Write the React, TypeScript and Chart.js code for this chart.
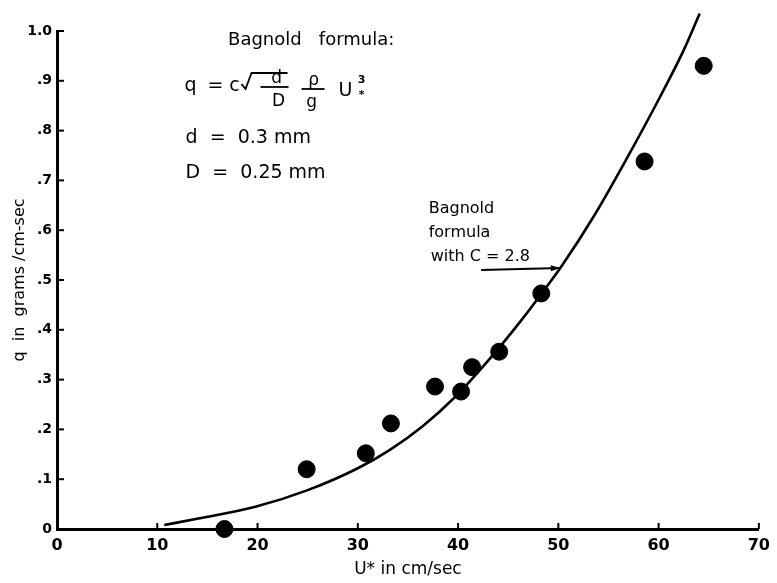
import React, { useEffect, useRef } from 'react';
import { Chart, registerables } from 'chart.js';
Chart.register(...registerables);

// Measured sand flux (dots)
const measuredU = [16.7, 24.9, 30.8, 33.3, 37.7, 40.3, 41.4, 44.1, 48.3, 58.6, 64.5];
const measuredQ = [0.0, 0.12, 0.152, 0.212, 0.286, 0.276, 0.325, 0.356, 0.473, 0.738, 0.93];

// Bagnold formula curve (C = 2.8)
const curveU = [10.7, 14.1, 19.7, 25.0, 30.0, 33.2, 36.5, 39.7, 43.0, 46.3, 48.3, 50.3, 53.6, 56.8, 60.1, 62.4, 64.1];
const curveQ = [0.008, 0.021, 0.044, 0.078, 0.122, 0.159, 0.207, 0.265, 0.338, 0.419, 0.472, 0.527, 0.63, 0.743, 0.866, 0.957, 1.035];

const xTickValues = [0, 10, 20, 30, 40, 50, 60, 70];
const yTickLabels = ['0', '.1', '.2', '.3', '.4', '.5', '.6', '.7', '.8', '.9', '1.0'];

const FONT = '"DejaVu Sans", sans-serif';

// annotation anchors in data units
const titleNote = { x: 17.06, y: 0.982, text: 'Bagnold   formula:' };
const formulaAnchor = { x: 12.72, y: 0.8896 };
const paramNotes = [
  { x: 12.82, y: 0.785, text: 'd  =  0.3 mm' },
  { x: 12.82, y: 0.715, text: 'D  =  0.25 mm' },
];
const curveNoteLines = ['Bagnold', 'formula', 'with C = 2.8'];
const curveNote = { x: 37.07, y: 0.6426, lineStep: 0.0482 };
const arrowFrom = { x: 42.3, y: 0.52 };
const arrowTo = { x: 50.2, y: 0.524 };

const annotPlugin = {
  id: 'annot',
  afterDatasetsDraw(chart: any) {
    const ctx: CanvasRenderingContext2D = chart.ctx;
    const xs = chart.scales.x;
    const ys = chart.scales.y;
    const X = (v: number) => xs.getPixelForValue(v);
    const Y = (v: number) => ys.getPixelForValue(v);
    const area = chart.chartArea;
    const line = (x1: number, y1: number, x2: number, y2: number) => {
      ctx.beginPath();
      ctx.moveTo(x1, y1);
      ctx.lineTo(x2, y2);
      ctx.stroke();
    };
    ctx.save();
    ctx.strokeStyle = '#000';
    ctx.fillStyle = '#000';
    ctx.lineWidth = 2;
    // inner ticks
    yTickLabels.forEach((_, i) => {
      const py = Y(i / 10);
      line(area.left, py, area.left + 7, py);
    });
    xTickValues.forEach((v) => {
      const px = X(v);
      line(px, area.bottom, px, area.bottom - 6);
    });

    ctx.textBaseline = 'middle';
    ctx.textAlign = 'left';
    // title note
    ctx.font = `18px ${FONT}`;
    ctx.fillText(titleNote.text, X(titleNote.x), Y(titleNote.y));
    // params
    ctx.font = `19px ${FONT}`;
    paramNotes.forEach((p) => ctx.fillText(p.text, X(p.x), Y(p.y)));

    // formula
    const ax = X(formulaAnchor.x);
    const ay = Y(formulaAnchor.y);
    ctx.font = `19px ${FONT}`;
    ctx.fillText('q', ax, ay);
    ctx.textAlign = 'center';
    ctx.fillText('=', ax + 31, ay);
    ctx.fillText('c', ax + 50, ay);
    ctx.lineWidth = 1.8;
    ctx.beginPath();
    ctx.moveTo(ax + 57, ay - 2);
    ctx.lineTo(ax + 61, ay + 3);
    ctx.lineTo(ax + 67, ay - 13);
    ctx.lineTo(ax + 103, ay - 13);
    ctx.stroke();
    ctx.font = `17px ${FONT}`;
    ctx.fillText('d', ax + 92, ay - 7);
    line(ax + 76, ay + 1, ax + 104, ay + 1);
    ctx.fillText('D', ax + 94, ay + 16);
    ctx.fillText('ρ', ax + 129, ay - 5);
    line(ax + 117, ay + 3, ax + 140, ay + 3);
    ctx.fillText('g', ax + 127, ay + 17);
    ctx.font = `19px ${FONT}`;
    ctx.fillText('U', ax + 161, ay + 5);
    ctx.font = `bold 11px ${FONT}`;
    ctx.fillText('3', ax + 177, ay - 6);
    ctx.fillText('*', ax + 177, ay + 9);

    // curve note
    ctx.textAlign = 'left';
    ctx.font = `16px ${FONT}`;
    curveNoteLines.forEach((t, i) => {
      ctx.fillText(t, X(curveNote.x) + (i === 2 ? 2 : 0), Y(curveNote.y - i * curveNote.lineStep));
    });
    // arrow
    const x1 = X(arrowFrom.x), y1 = Y(arrowFrom.y);
    const x2 = X(arrowTo.x), y2 = Y(arrowTo.y);
    ctx.lineWidth = 2;
    line(x1, y1, x2, y2);
    const ang = Math.atan2(y2 - y1, x2 - x1);
    ctx.beginPath();
    ctx.moveTo(x2, y2);
    ctx.lineTo(x2 - 10 * Math.cos(ang - 0.3), y2 - 10 * Math.sin(ang - 0.3));
    ctx.lineTo(x2 - 10 * Math.cos(ang + 0.3), y2 - 10 * Math.sin(ang + 0.3));
    ctx.closePath();
    ctx.fill();
    ctx.restore();
  },
};

export default function App() {
  const ref = useRef<HTMLCanvasElement>(null);
  useEffect(() => {
    if (!ref.current) return;
    const chart = new Chart(ref.current, {
      type: 'scatter',
      data: {
        datasets: [
          {
            type: 'line',
            label: 'Bagnold formula C = 2.8',
            data: curveU.map((u, i) => ({ x: u, y: curveQ[i] })),
            borderColor: '#000',
            borderWidth: 2.6,
            pointRadius: 0,
            cubicInterpolationMode: 'monotone',
            fill: false,
            clip: false,
          } as any,
          {
            type: 'scatter',
            label: 'measured',
            data: measuredU.map((u, i) => ({ x: u, y: measuredQ[i] })),
            backgroundColor: '#000',
            borderColor: '#000',
            pointRadius: 8.5,
            clip: false,
          } as any,
        ],
      },
      options: {
        responsive: false,
        animation: false,
        events: [],
        layout: { padding: { top: 31, right: 10, left: 0, bottom: 0 } },
        plugins: { legend: { display: false }, tooltip: { enabled: false } },
        scales: {
          x: {
            type: 'linear',
            min: 0,
            max: 70,
            afterFit: (s: any) => { s.height = 54; },
            afterBuildTicks: (s: any) => { s.ticks = xTickValues.map((v) => ({ value: v })); },
            grid: { display: false, drawTicks: false },
            border: { display: true, width: 3, color: '#000' },
            ticks: {
              color: '#000',
              padding: 7,
              font: { family: FONT, size: 16, weight: 'bold' },
              maxRotation: 0,
              callback: (v: any) => String(v),
            },
            title: {
              display: true,
              text: 'U* in cm/sec',
              color: '#000',
              font: { family: FONT, size: 17 },
              padding: { top: 0, bottom: 3 },
            },
          },
          y: {
            type: 'linear',
            min: 0,
            max: 1.0,
            afterFit: (s: any) => { s.width = 57; },
            afterBuildTicks: (s: any) => { s.ticks = yTickLabels.map((_, i) => ({ value: i / 10 })); },
            grid: { display: false, drawTicks: false },
            border: { display: true, width: 3, color: '#000' },
            ticks: {
              color: '#000',
              padding: 5,
              font: { family: FONT, size: 14, weight: 'bold' },
              callback: (_v: any, i: number) => yTickLabels[i],
            },
            title: {
              display: true,
              text: 'q  in  grams /cm-sec',
              color: '#000',
              font: { family: FONT, size: 16 },
              padding: { top: 10, bottom: 0 },
            },
          },
        },
      } as any,
      plugins: [annotPlugin],
    });
    return () => chart.destroy();
  }, []);
  return (
    <div style={{ position: 'fixed', left: 0, top: 0, width: 777, height: 583, background: '#fff' }}>
      <canvas ref={ref} width={777} height={583} style={{ display: 'block' }} />
    </div>
  );
}
